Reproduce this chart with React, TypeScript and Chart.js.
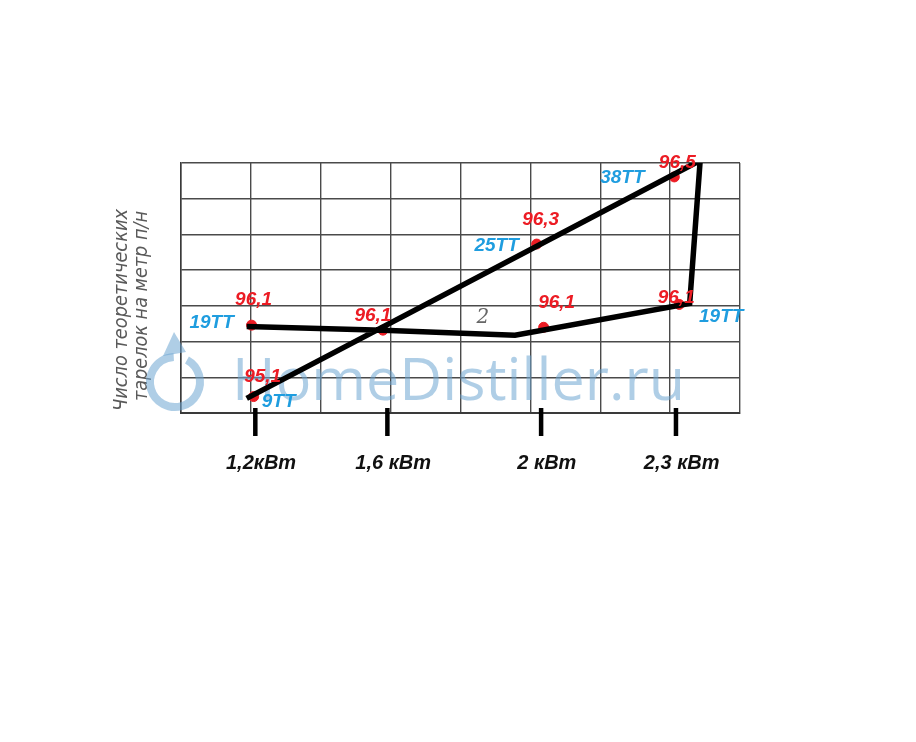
import React, { useEffect, useRef } from "react";
import { Chart, registerables } from "chart.js";

Chart.register(...registerables);

// Grid units: x 0..8 columns, y 0..7 rows of the scanned grid
const lineX = [0.94, 2.89, 4.78, 7.28, 7.43, 0.94];
const lineY = [2.42, 2.32, 2.18, 3.07, 7.07, 0.41];
const pointX = [1.01, 2.89, 5.19, 7.13, 5.09, 7.06, 1.04];
const pointY = [2.46, 2.32, 2.4, 3.04, 4.73, 6.61, 0.46];
const purityLabels = ["96,1", "96,1", "96,1", "96,1", "96,3", "96,5", "95,1"];
const trayLabels = ["19TT", "", "", "19TT", "25TT", "38TT", "9TT"];
const powerX = [1.06, 2.95, 5.15, 7.08];
const powerLabels = ["1,2кВт", "1,6 кВт", "2 кВт", "2,3 кВт"];
const yTitleLines = ["Число теоретических", "тарелок на метр п/н"];
const curveName = "2";
const curveNameX = 4.32;
const curveNameY = 2.66;
const watermark = "HomeDistiller.ru";

// label offsets (pixels) relative to the marker
const purityOffsets = [
  [2, -25],
  [-10, -14],
  [13, -25],
  [-3, -7],
  [4, -24],
  [3, -14],
  [9, -20],
];
const trayOffsets = [
  [-40, -2],
  [0, 0],
  [0, 0],
  [42, 12],
  [-40, 2],
  [-52, 1],
  [25, 5],
];

const RED = "#ec1c24";
const BLUE = "#1f9ddf";
const LABEL_FONT = 'bold italic 19px "Liberation Sans", Arial, sans-serif';
const POWER_FONT = 'bold italic 20px "Liberation Sans", Arial, sans-serif';

const overlayPlugin = {
  id: "overlay",
  beforeDatasetsDraw(chart: any) {
    const ctx = chart.ctx as CanvasRenderingContext2D;
    const xs = chart.scales.x;
    const ys = chart.scales.y;
    ctx.save();
    // curve name from scan
    ctx.fillStyle = "#666";
    ctx.font = 'italic 20px "DejaVu Serif", serif';
    ctx.textAlign = "center";
    ctx.textBaseline = "middle";
    ctx.fillText(curveName, xs.getPixelForValue(curveNameX), ys.getPixelForValue(curveNameY));

    // y title (rotated)
    const titleSpecs = [
      { x: 122, y: 310, len: 202 },
      { x: 142, y: 306, len: 190 },
    ];
    yTitleLines.forEach((t, i) => {
      const s = titleSpecs[i];
      ctx.save();
      ctx.translate(s.x, s.y);
      ctx.rotate(-Math.PI / 2);
      ctx.font = 'italic 19px "DejaVu Sans", sans-serif';
      const w = ctx.measureText(t).width;
      ctx.scale(s.len / w, 1);
      ctx.fillStyle = "#5a5a5a";
      ctx.textAlign = "center";
      ctx.textBaseline = "middle";
      ctx.fillText(t, 0, 0);
      ctx.restore();
    });

    // watermark
    const wm = "rgba(110,165,210,0.55)";
    ctx.save();
    ctx.font = '58px "Open Sans", sans-serif';
    const ww = ctx.measureText(watermark).width;
    ctx.translate(232, 400);
    ctx.scale(453 / ww, 1);
    ctx.fillStyle = wm;
    ctx.textAlign = "left";
    ctx.textBaseline = "alphabetic";
    ctx.fillText(watermark, 0, 0);
    ctx.restore();
    // logo: ring with drop tip
    ctx.strokeStyle = wm;
    ctx.lineWidth = 8;
    ctx.beginPath();
    ctx.arc(175, 382, 25, -Math.PI / 2 + 0.5, -Math.PI / 2 - 0.05, false);
    ctx.stroke();
    ctx.fillStyle = wm;
    ctx.beginPath();
    ctx.moveTo(163, 356);
    ctx.lineTo(186, 352);
    ctx.lineTo(174, 332);
    ctx.closePath();
    ctx.fill();
    ctx.restore();
  },
  afterDatasetsDraw(chart: any) {
    const ctx = chart.ctx as CanvasRenderingContext2D;
    const xs = chart.scales.x;
    const ys = chart.scales.y;
    ctx.save();
    ctx.font = LABEL_FONT;
    ctx.textAlign = "center";
    ctx.textBaseline = "middle";
    pointX.forEach((vx, i) => {
      const px = xs.getPixelForValue(vx);
      const py = ys.getPixelForValue(pointY[i]);
      ctx.fillStyle = RED;
      ctx.fillText(purityLabels[i], px + purityOffsets[i][0], py + purityOffsets[i][1]);
      if (trayLabels[i]) {
        ctx.fillStyle = BLUE;
        ctx.fillText(trayLabels[i], px + trayOffsets[i][0], py + trayOffsets[i][1]);
      }
    });
    // power ticks below axis
    const bottom = chart.chartArea.bottom;
    ctx.font = POWER_FONT;
    powerX.forEach((vx, i) => {
      const px = xs.getPixelForValue(vx);
      ctx.fillStyle = "#000";
      ctx.fillRect(px - 2, bottom - 5, 4.5, 28);
      ctx.fillStyle = "#111";
      ctx.fillText(powerLabels[i], px + 6, bottom + 50);
    });
    ctx.restore();
  },
};

export default function App() {
  const ref = useRef<HTMLCanvasElement | null>(null);
  useEffect(() => {
    if (!ref.current) return;
    const chart = new Chart(ref.current, {
      type: "scatter",
      data: {
        datasets: [
          {
            label: "curve",
            data: lineX.map((x, i) => ({ x, y: lineY[i] })),
            showLine: true,
            borderColor: "#000",
            borderWidth: 5.5,
            pointRadius: 0,
            borderJoinStyle: "miter",
          },
          {
            label: "points",
            data: pointX.map((x, i) => ({ x, y: pointY[i] })),
            backgroundColor: RED,
            borderColor: RED,
            pointRadius: 5,
            pointStyle: "circle",
          },
        ],
      },
      options: {
        responsive: false,
        animation: false,
        devicePixelRatio: 1,
        layout: { padding: { left: 181, right: 176, top: 163, bottom: 329 } },
        plugins: { legend: { display: false }, tooltip: { enabled: false } },
        scales: {
          x: {
            type: "linear",
            min: 0,
            max: 8,
            ticks: { display: false, stepSize: 1 },
            grid: { color: "#4a4a4a", lineWidth: 1.4, drawTicks: false },
            border: { color: "#3a3a3a", width: 2 },
          },
          y: {
            type: "linear",
            min: 0,
            max: 7,
            ticks: { display: false, stepSize: 1 },
            grid: { color: "#4a4a4a", lineWidth: 1.4, drawTicks: false },
            border: { color: "#3a3a3a", width: 1.5 },
          },
        },
      },
      plugins: [overlayPlugin],
    });
    return () => chart.destroy();
  }, []);
  return (
    <div style={{ position: "absolute", left: 0, top: 0, width: 916, height: 742, background: "#fff" }}>
      <canvas ref={ref} width={916} height={742} />
    </div>
  );
}
